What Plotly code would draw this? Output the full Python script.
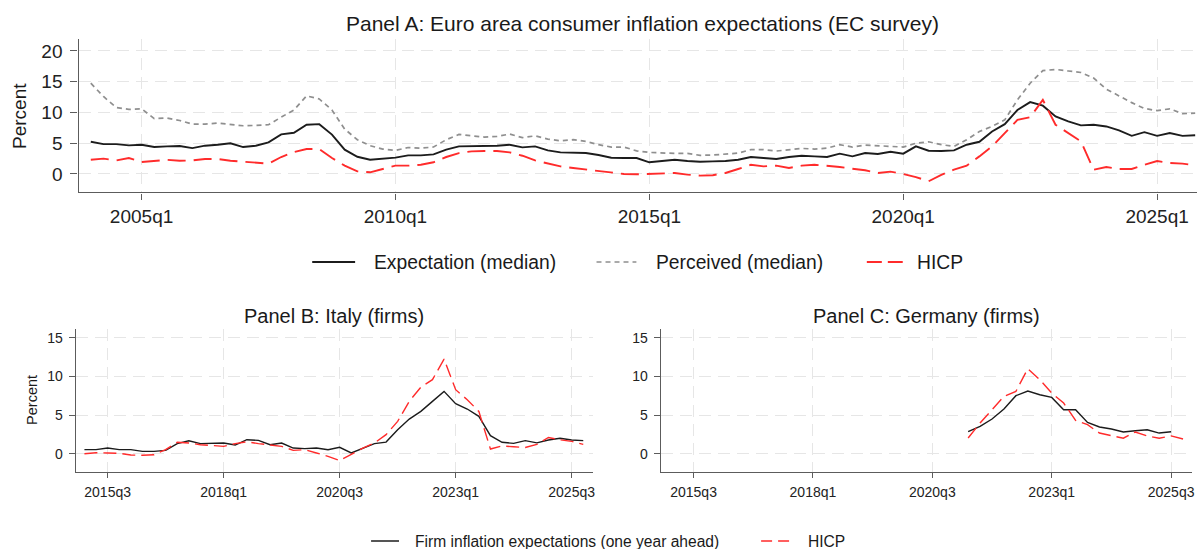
import plotly.graph_objects as go

W, H = 1200, 549
FONT = "Liberation Sans, Arial, sans-serif"


def quarters(start_year, start_q, n):
    out, y, q = [], start_year, start_q
    for _ in range(n):
        out.append(f"{y}q{q}")
        q += 1
        if q > 4:
            q, y = 1, y + 1
    return out


def qnum(label):
    y, q = label.split("q")
    return int(y) + (int(q) - 1) / 4


# ---------------- Panel A: Euro area (EC survey), 2004q1-2025q4 ----------------
ea_quarters = quarters(2004, 1, 88)
ea_expectation = [5.24, 4.86, 4.86, 4.65, 4.75, 4.38, 4.49, 4.54, 4.2, 4.6, 4.75, 5.0, 4.38, 4.6, 5.14, 6.43,
                  6.7, 8.0, 8.1, 6.4, 3.95, 2.8, 2.32, 2.43, 2.65, 3.03, 3.03, 3.19, 3.95, 4.49, 4.49, 4.49,
                  4.6, 4.75, 4.32, 4.49, 3.84, 3.51, 3.4, 3.4, 3.08, 2.65, 2.59, 2.6, 1.9, 2.05, 2.32, 2.1,
                  2.0, 2.05, 2.1, 2.32, 2.76, 2.6, 2.43, 2.76, 2.97, 2.86, 2.76, 3.3, 2.86, 3.4, 3.24, 3.62,
                  3.3, 4.49, 3.78, 3.73, 3.84, 4.76, 5.24, 6.9, 8.1, 10.4, 11.68, 11.1, 9.35, 8.54, 7.9, 8.0,
                  7.73, 7.08, 6.2, 6.8, 6.2, 6.65, 6.2, 6.3]
ea_perceived = [14.76, 12.6, 10.8, 10.5, 10.6, 9.0, 9.1, 8.7, 8.1, 8.1, 8.27, 8.1, 7.84, 7.9, 8.0, 9.24,
                10.4, 12.7, 12.2, 10.4, 7.3, 5.57, 4.6, 4.05, 3.84, 4.3, 4.2, 4.38, 5.57, 6.43, 6.2, 6.0,
                6.1, 6.49, 5.9, 6.2, 5.68, 5.4, 5.57, 5.3, 4.76, 4.38, 4.38, 3.76, 3.5, 3.4, 3.35, 3.35,
                3.03, 3.08, 3.3, 3.4, 3.95, 3.95, 3.73, 3.95, 4.16, 4.05, 4.2, 4.76, 4.38, 4.7, 4.6, 4.49,
                4.38, 5.0, 5.24, 4.76, 4.49, 5.57, 6.9, 7.73, 8.8, 12.05, 14.76, 16.8, 17.0, 16.75, 16.5, 15.6,
                13.8, 12.7, 11.6, 10.65, 10.3, 10.6, 9.8, 9.9]
ea_hicp = [2.32, 2.49, 2.2, 2.6, 1.95, 2.16, 2.3, 2.16, 2.2, 2.43, 2.43, 2.16, 2.0, 1.95, 1.68, 2.76,
           3.57, 4.05, 4.05, 2.6, 1.35, 0.43, 0.27, 0.81, 1.35, 1.35, 1.5, 1.9, 2.76, 3.4, 3.68, 3.73,
           3.73, 3.51, 2.97, 2.2, 1.68, 1.24, 0.97, 0.7, 0.43, 0.16, 0.0, -0.05, 0.05, 0.16, 0.16, -0.1,
           -0.27, -0.2, 0.16, 0.81, 1.5, 1.24, 1.35, 0.97, 1.35, 1.5, 1.35, 1.14, 0.86, 0.6, 0.16, 0.38,
           0.0, -0.5, -1.19, -0.16, 0.7, 1.35, 2.86, 4.49, 6.65, 8.8, 9.24, 12.05, 8.0, 6.65, 5.3, 0.7,
           1.14, 0.81, 0.81, 1.5, 2.1, 1.78, 1.68, 1.4]

# ---------------- Panel B: Italy (firms), 2015q1-2025q4 ----------------
it_quarters = quarters(2015, 1, 44)
it_firms = [0.52, 0.52, 0.73, 0.52, 0.52, 0.3, 0.3, 0.43, 1.3, 1.68, 1.3, 1.3, 1.38, 1.12, 1.81, 1.72,
            1.16, 1.38, 0.73, 0.65, 0.73, 0.52, 0.82, 0.09, 0.73, 1.3, 1.5, 3.1, 4.48, 5.47, 6.77, 8.06,
            6.47, 5.78, 4.83, 2.33, 1.47, 1.34, 1.69, 1.4, 1.77, 1.99, 1.77, 1.69]
it_hicp = [0.0, 0.13, 0.09, 0.04, -0.17, -0.2, -0.13, 0.52, 1.47, 1.38, 1.16, 1.03, 0.95, 1.3, 1.55, 1.3,
           1.08, 0.95, 0.43, 0.52, 0.09, -0.34, -0.9, -0.13, 0.73, 1.38, 2.46, 4.18, 6.77, 8.6, 9.57, 12.24,
           8.28, 6.98, 5.47, 0.6, 1.0, 0.9, 0.8, 1.2, 2.1, 1.8, 1.6, 1.2]

# ---------------- Panel C: Germany (firms), 2021q2-2025q4 ----------------
de_quarters = quarters(2021, 2, 19)
de_firms = [2.84, 3.53, 4.48, 5.78, 7.5, 8.1, 7.63, 7.28, 5.69, 5.69, 4.05, 3.45, 3.19, 2.8, 2.97, 3.1,
            2.67, 2.84]
de_hicp = [2.03, 3.97, 5.69, 7.41, 8.06, 11.0, 9.57, 7.84, 6.55, 4.31, 3.75, 2.67, 2.33, 2.0, 2.8, 2.3,
           2.0, 2.3, 1.9]

panelA_ticks = ["2005q1", "2010q1", "2015q1", "2020q1", "2025q1"]
panelA_yticks = [0, 5, 10, 15, 20]
panelBC_ticks = ["2015q3", "2018q1", "2020q3", "2023q1", "2025q3"]
panelBC_yticks = [0, 5, 10, 15]

BLACK = "#1c1c1c"
GREY = "#8f8f8f"
RED = "#ff2b2b"
AXIS = "#5c5c5c"
GRID = "#e6e6e6"


def px(x):
    """window pixel x -> paper fraction"""
    return x / W


def py(y):
    """window pixel y -> paper fraction"""
    return 1 - y / H


fig = go.Figure()

xa = [qnum(q) for q in ea_quarters]
fig.add_trace(go.Scatter(x=xa, y=ea_expectation, mode="lines", line=dict(color=BLACK, width=1.9),
                         xaxis="x", yaxis="y", showlegend=False))
fig.add_trace(go.Scatter(x=xa, y=ea_perceived, mode="lines", line=dict(color=GREY, width=1.7, dash="5px,4px"),
                         xaxis="x", yaxis="y", showlegend=False))
fig.add_trace(go.Scatter(x=xa, y=ea_hicp, mode="lines", line=dict(color=RED, width=1.9, dash="18px,8px"),
                         xaxis="x", yaxis="y", showlegend=False))

xb = [qnum(q) for q in it_quarters]
fig.add_trace(go.Scatter(x=xb, y=it_firms, mode="lines", line=dict(color=BLACK, width=1.4),
                         xaxis="x2", yaxis="y2", showlegend=False))
fig.add_trace(go.Scatter(x=xb, y=it_hicp, mode="lines", line=dict(color=RED, width=1.4, dash="13px,6px"),
                         xaxis="x2", yaxis="y2", showlegend=False))

xc = [qnum(q) for q in de_quarters]
fig.add_trace(go.Scatter(x=xc[:len(de_firms)], y=de_firms, mode="lines", line=dict(color=BLACK, width=1.4),
                         xaxis="x3", yaxis="y3", showlegend=False))
fig.add_trace(go.Scatter(x=xc, y=de_hicp, mode="lines", line=dict(color=RED, width=1.4, dash="13px,6px"),
                         xaxis="x3", yaxis="y3", showlegend=False))


def axis_style(size, ticklen, standoff):
    return dict(showline=True, linecolor=AXIS, linewidth=1.4, ticks="outside", ticklen=ticklen,
                tickwidth=1.3, tickcolor=AXIS, showgrid=True, gridcolor=GRID, griddash="12px,7px",
                gridwidth=1.2, zeroline=False, tickfont=dict(family=FONT, size=size, color="#222222"),
                ticklabelstandoff=standoff, fixedrange=True)


fig.update_layout(
    width=W, height=H, margin=dict(l=0, r=0, t=0, b=0),
    paper_bgcolor="white", plot_bgcolor="white",
    font=dict(family=FONT, color="#222222"),
    xaxis=dict(domain=[px(78.7), 1.0], range=[2003.758, 2025.786], anchor="y",
               tickvals=[qnum(t) for t in panelA_ticks], ticktext=panelA_ticks, **axis_style(19, 6, 1)),
    yaxis=dict(domain=[py(192.3), py(39.3)], range=[-2.98, 21.9], anchor="x",
               tickvals=panelA_yticks, **axis_style(19, 7, 4)),
    xaxis2=dict(domain=[px(75.9), px(594.3)], range=[2014.812, 2025.956], anchor="y2",
                tickvals=[qnum(t) for t in panelBC_ticks], ticktext=panelBC_ticks, **axis_style(14, 5, 2)),
    yaxis2=dict(domain=[py(471.7), py(329.3)], range=[-2.33, 16.09], anchor="x2",
                tickvals=panelBC_yticks, **axis_style(14, 6, 3)),
    xaxis3=dict(domain=[px(662.4), px(1195.1)], range=[2014.813, 2025.94], anchor="y3",
                tickvals=[qnum(t) for t in panelBC_ticks], ticktext=panelBC_ticks, **axis_style(14, 5, 2)),
    yaxis3=dict(domain=[py(471.7), py(329.3)], range=[-2.33, 16.09], anchor="x3",
                tickvals=panelBC_yticks, **axis_style(14, 6, 3)),
)

ann = []


def text(x, y, s, size, anchor="center", angle=0):
    ann.append(dict(x=px(x), y=py(y), xref="paper", yref="paper", text=s, showarrow=False,
                    xanchor=anchor, yanchor="middle", textangle=angle,
                    font=dict(family=FONT, size=size, color="#1a1a1a")))


text(644, 23, "Panel A: Euro area consumer inflation expectations (EC survey)", 21)
text(335, 316, "Panel B: Italy (firms)", 20)
text(929, 316, "Panel C: Germany (firms)", 20)
text(20, 116, "Percent", 19, angle=-90)
text(32, 400, "Percent", 14.5, angle=-90)

# legend entries (keys + labels)
text(373, 262, "Expectation (median)", 19.3, anchor="left")
text(656, 262, "Perceived (median)", 19.3, anchor="left")
text(917, 262, "HICP", 19.3, anchor="left")
text(414, 541, "Firm inflation expectations (one year ahead)", 15.6, anchor="left")
text(808, 541, "HICP", 15.6, anchor="left")

shapes = [
    dict(type="line", xref="paper", yref="paper", x0=px(313), x1=px(356), y0=py(262), y1=py(262),
         line=dict(color=BLACK, width=1.9)),
    dict(type="line", xref="paper", yref="paper", x0=px(598), x1=px(638), y0=py(262), y1=py(262),
         line=dict(color=GREY, width=1.7, dash="5px,4px")),
    dict(type="line", xref="paper", yref="paper", x0=px(869), x1=px(905), y0=py(262), y1=py(262),
         line=dict(color=RED, width=1.9, dash="15px,6px")),
    dict(type="line", xref="paper", yref="paper", x0=px(372), x1=px(400), y0=py(541), y1=py(541),
         line=dict(color=BLACK, width=1.5)),
    dict(type="line", xref="paper", yref="paper", x0=px(763), x1=px(792), y0=py(541), y1=py(541),
         line=dict(color=RED, width=1.5, dash="11px,6px")),
]

fig.update_layout(annotations=ann, shapes=shapes)
# Remove the default 8px page margin so the 1200x549 figure fills the window exactly.
fig.write_html("out.html", config={"displayModeBar": False},
               post_script="document.body.style.margin='0';document.body.style.overflow='hidden';")
